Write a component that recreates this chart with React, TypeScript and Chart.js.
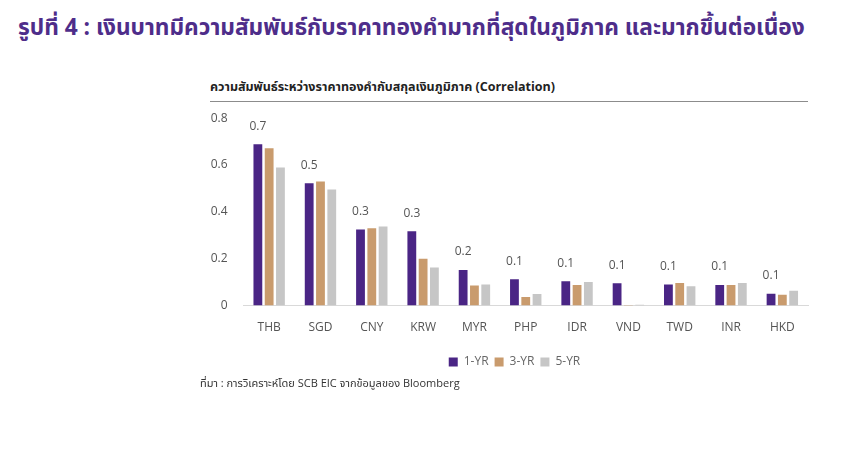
import { useEffect, useRef } from "react";
import Chart from "chart.js/auto";

const currencies = ["THB", "SGD", "CNY", "KRW", "MYR", "PHP", "IDR", "VND", "TWD", "INR", "HKD"];
const oneYear = [0.689, 0.522, 0.325, 0.317, 0.152, 0.113, 0.104, 0.095, 0.09, 0.088, 0.051];
const threeYear = [0.672, 0.53, 0.33, 0.2, 0.086, 0.037, 0.088, -0.003, 0.097, 0.088, 0.046];
const fiveYear = [0.59, 0.496, 0.338, 0.163, 0.09, 0.05, 0.101, 0.004, 0.083, 0.097, 0.063];
const yTicks = [0, 0.2, 0.4, 0.6, 0.8];

const FONT = '"Open Sans", "Noto Sans Thai", "Noto Sans", sans-serif';

// ป้ายค่าเหนือแท่ง 1-YR
const topLabels = {
  id: "topLabels",
  afterDatasetsDraw(chart: Chart) {
    const ctx = chart.ctx;
    const meta = chart.getDatasetMeta(0);
    ctx.save();
    ctx.font = `12px ${FONT}`;
    ctx.fillStyle = "#555555";
    ctx.textAlign = "center";
    ctx.textBaseline = "middle";
    meta.data.forEach((bar: any, i: number) => {
      ctx.fillText(oneYear[i].toFixed(1), bar.x, bar.y - 18);
    });
    ctx.restore();
  },
};

// เลื่อนคำอธิบายไปทางขวาเล็กน้อยให้ตรงกับต้นฉบับ
const legendShift = {
  id: "legendShift",
  afterLayout(chart: any) {
    if (chart.legend) {
      chart.legend.left += 13;
      chart.legend.right += 13;
    }
  },
};

export default function App() {
  const chartRef = useRef<HTMLCanvasElement>(null);
  const chartInstance = useRef<Chart | null>(null);

  useEffect(() => {
    const ctx = chartRef.current?.getContext("2d");
    if (!ctx) return;
    if (chartInstance.current) chartInstance.current.destroy();

    chartInstance.current = new Chart(ctx, {
      type: "bar",
      data: {
        labels: currencies,
        datasets: [
          { label: "1-YR", data: oneYear, backgroundColor: "#4a2585" },
          { label: "3-YR", data: threeYear, backgroundColor: "#c99b6d" },
          { label: "5-YR", data: fiveYear, backgroundColor: "#c6c6c6" },
        ],
      },
      options: {
        animation: false,
        responsive: false,
        maintainAspectRatio: false,
        datasets: {
          bar: { categoryPercentage: 0.66, barPercentage: 0.78 },
        },
        layout: { padding: { top: 0, right: 7, left: 0, bottom: 0 } },
        plugins: {
          tooltip: { enabled: false },
          legend: {
            position: "bottom",
            labels: {
              boxWidth: 9,
              boxHeight: 9,
              padding: 6,
              color: "#666666",
              font: { family: FONT, size: 12 },
            },
          },
        },
        scales: {
          x: {
            grid: { display: false, drawTicks: false },
            border: { display: true, color: "#d9d9d9" },
            ticks: { color: "#555555", padding: 15, font: { family: FONT, size: 12 } },
          },
          y: {
            min: 0,
            max: 0.8,
            grid: { display: false, drawTicks: false },
            border: { display: false },
            afterBuildTicks: (axis: any) => {
              axis.ticks = yTicks.map((v) => ({ value: v }));
            },
            afterFit: (axis: any) => {
              axis.width = 48.5;
            },
            ticks: {
              color: "#555555",
              padding: 16,
              font: { family: FONT, size: 12 },
              callback: (v: any) => (v === 0 ? "0" : Number(v).toFixed(1)),
            },
          },
        },
      },
      plugins: [topLabels, legendShift],
    });

    return () => {
      chartInstance.current?.destroy();
    };
  }, []);

  return (
    <div style={{ position: "fixed", left: 0, top: 0, width: 860, height: 454, background: "#fff", fontFamily: FONT }}>
      <div
        style={{
          position: "absolute",
          left: 18,
          top: 11,
          fontSize: 22.7,
          fontWeight: 700,
          color: "#4e2d8a",
          whiteSpace: "nowrap",
        }}
      >
        รูปที่ 4 : เงินบาทมีความสัมพันธ์กับราคาทองคำมากที่สุดในภูมิภาค และมากขึ้นต่อเนื่อง
      </div>
      <div
        style={{
          position: "absolute",
          left: 210,
          top: 78,
          width: 598,
          paddingBottom: 4,
          borderBottom: "1px solid #8c8c8c",
          fontSize: 12.5,
          fontWeight: 700,
          color: "#222",
          whiteSpace: "nowrap",
        }}
      >
        ความสัมพันธ์ระหว่างราคาทองคำกับสกุลเงินภูมิภาค (Correlation)
      </div>
      <canvas ref={chartRef} width={620} height={283} style={{ position: "absolute", left: 195, top: 95 }} />
      <div style={{ position: "absolute", left: 200, top: 375, fontSize: 11, color: "#333", whiteSpace: "nowrap" }}>
        ที่มา : การวิเคราะห์โดย SCB EIC จากข้อมูลของ Bloomberg
      </div>
    </div>
  );
}
